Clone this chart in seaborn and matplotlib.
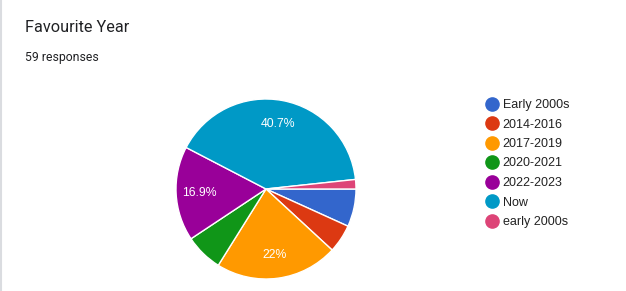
import matplotlib
matplotlib.use("Agg")
import matplotlib.pyplot as plt
import seaborn as sns
from matplotlib.lines import Line2D

categories = ["Early 2000s", "2014-2016", "2017-2019", "2020-2021", "2022-2023", "Now", "early 2000s"]
counts = [4, 3, 13, 4, 10, 24, 1]
colors_hex = ["#3366cc", "#dc3912", "#ff9900", "#109618", "#990099", "#0099c6", "#dd4477"]
title = "Favourite Year"
subtitle = "59 responses"

sns.set_theme(style="white")
plt.rcParams['font.family'] = ['Roboto', 'DejaVu Sans']
palette = sns.color_palette(colors_hex)

W, H = 626, 291
fig = plt.figure(figsize=(W / 100, H / 100), dpi=100)
fig.patch.set_facecolor("white")

# pie axes: center (266,189), radius ~90px
cx, cy, r = 266, 189, 90
ax = fig.add_axes([(cx - r) / W, (H - cy - r) / H, 2 * r / W, 2 * r / H])

def fmt(p):
    return (f"{p:.1f}".rstrip("0").rstrip(".") + "%") if p >= 10 else ""

wedges, texts, autotexts = ax.pie(
    counts, colors=palette, startangle=0, counterclock=False,
    autopct=fmt, pctdistance=0.74,
    wedgeprops=dict(edgecolor="white", linewidth=1),
    textprops=dict(color="white", fontsize=8.8, family=["Liberation Sans", "DejaVu Sans"]),
)
ax.set_aspect("equal")
ax.set_xlim(-1, 1)
ax.set_ylim(-1, 1)

# Title and subtitle
fig.text(25 / W, 1 - 28 / H, title, fontsize=11.7, color="#202124", va="center", ha="left")
fig.text(25 / W, 1 - 57 / H, subtitle, fontsize=8.8, color="#202124", va="center", ha="left")

# Left card border
fig.add_artist(Line2D([0.5 / W, 0.5 / W], [0, 1], color="#dadce0", linewidth=1.5))

# Legend
handles = [Line2D([0], [0], marker="o", linestyle="", markersize=9.5,
                  markerfacecolor=c, markeredgecolor=c) for c in palette]
leg = fig.legend(handles, categories, loc="upper left",
                 bbox_to_anchor=(487 / W, 1 - 99 / H), frameon=False,
                 handlelength=0.8, handletextpad=0.45, labelspacing=0.6,
                 borderpad=0, borderaxespad=0,
                 prop=dict(family=["Liberation Sans", "DejaVu Sans"], size=9))
for t in leg.get_texts():
    t.set_color("#222222")

fig.savefig("out.png", dpi=100, facecolor="white")
